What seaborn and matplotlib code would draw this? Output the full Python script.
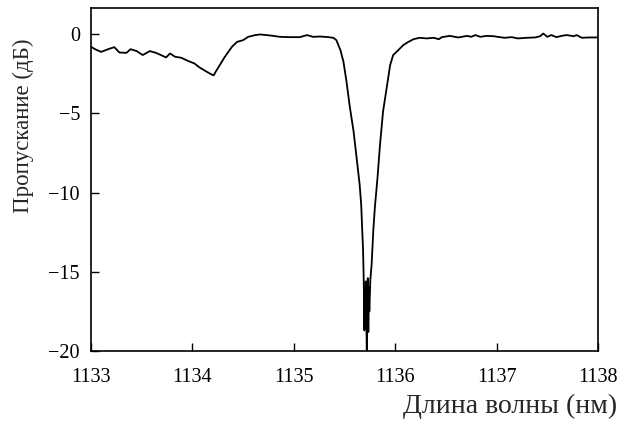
import matplotlib
matplotlib.use("Agg")
import matplotlib.pyplot as plt
import seaborn as sns
import pandas as pd

# wavelength (nm) and transmission (dB)
wavelength = [
    1133.00, 1133.04, 1133.10, 1133.17, 1133.23, 1133.28, 1133.35, 1133.39,
    1133.45, 1133.51, 1133.58, 1133.64, 1133.69, 1133.74, 1133.78, 1133.83,
    1133.89, 1133.96, 1134.02, 1134.07, 1134.14, 1134.19, 1134.21, 1134.23,
    1134.26, 1134.32, 1134.39, 1134.44, 1134.50, 1134.55, 1134.62, 1134.67,
    1134.73, 1134.80, 1134.86, 1134.96, 1135.06, 1135.13, 1135.19, 1135.26,
    1135.34, 1135.39, 1135.42, 1135.46, 1135.49, 1135.52, 1135.55, 1135.59,
    1135.62, 1135.65, 1135.665, 1135.675, 1135.683, 1135.688, 1135.692,
    1135.696, 1135.700, 1135.705, 1135.710, 1135.715, 1135.720, 1135.725,
    1135.730, 1135.735, 1135.740, 1135.745, 1135.755, 1135.768, 1135.784,
    1135.800, 1135.825, 1135.85, 1135.88, 1135.92, 1135.95, 1135.98, 1136.03,
    1136.08, 1136.13, 1136.18, 1136.24, 1136.31, 1136.38, 1136.43, 1136.46,
    1136.54, 1136.62, 1136.71, 1136.75, 1136.79, 1136.84, 1136.90, 1136.97,
    1137.03, 1137.08, 1137.15, 1137.21, 1137.30, 1137.38, 1137.43, 1137.46,
    1137.50, 1137.54, 1137.59, 1137.64, 1137.69, 1137.76, 1137.79, 1137.84,
    1137.91, 1137.97, 1138.00,
]
transmission = [
    -0.80, -0.95, -1.12, -0.95, -0.82, -1.16, -1.18, -0.95,
    -1.07, -1.32, -1.07, -1.18, -1.32, -1.47, -1.22, -1.43,
    -1.49, -1.70, -1.85, -2.10, -2.37, -2.55, -2.60, -2.37,
    -2.06, -1.43, -0.80, -0.49, -0.38, -0.17, -0.06, -0.02,
    -0.06, -0.11, -0.17, -0.19, -0.19, -0.06, -0.17, -0.15,
    -0.19, -0.23, -0.38, -1.01, -1.75, -3.01, -4.48, -6.16,
    -7.84, -9.53, -10.8, -12.4, -13.6, -15.0, -16.5,
    -18.7, -16.2, -17.5, -15.6, -18.0, -20.0, -16.5,
    -15.4, -18.8, -16.0, -17.5, -15.5, -14.5, -12.4,
    -10.9, -9.1, -7.0, -4.9, -3.22, -1.96, -1.32, -1.01,
    -0.69, -0.49, -0.32, -0.23, -0.27, -0.23, -0.32, -0.19,
    -0.11, -0.21, -0.11, -0.17, -0.06, -0.17, -0.11, -0.13,
    -0.19, -0.23, -0.19, -0.27, -0.23, -0.21, -0.13, 0.04,
    -0.17, -0.06, -0.19, -0.11, -0.06, -0.13, -0.06, -0.23,
    -0.21, -0.21, -0.20,
]

x_ticks = [1133, 1134, 1135, 1136, 1137, 1138]
y_ticks = [-20, -15, -10, -5, 0]

sns.set_theme(style="ticks")
plt.rcParams["font.family"] = ["Liberation Serif", "DejaVu Serif"]
plt.rcParams["axes.unicode_minus"] = True

df = pd.DataFrame({"wl": wavelength, "t": transmission})

fig = plt.figure(figsize=(6.31, 4.21), dpi=100)
ax = fig.add_axes([0.1442, 0.1663, 0.8035, 0.8147])

sns.lineplot(data=df, x="wl", y="t", ax=ax, color="black", linewidth=1.3,
             estimator=None, sort=False)

ax.set_xlim(1133, 1138)
ax.set_ylim(-20, 1.65)
ax.set_xticks(x_ticks)
ax.set_yticks(y_ticks)
ax.tick_params(direction="in", length=6, width=1, labelsize=14.5, colors="black",
               top=False, right=False)
ax.tick_params(axis="x", pad=12)
ax.tick_params(axis="y", pad=8)
for side in ax.spines.values():
    side.set_linewidth(1.2)
    side.set_color("black")

ax.set_xlabel("Длина волны (нм)", fontsize=20, ha="right", va="center")
ax.xaxis.set_label_coords(1.037, -0.163)
ax.set_ylabel("Пропускание (дБ)", fontsize=16.5, ha="center", va="center")
ax.yaxis.set_label_coords(-0.134, 0.656)

fig.savefig("out.png", dpi=100)
plt.close(fig)
